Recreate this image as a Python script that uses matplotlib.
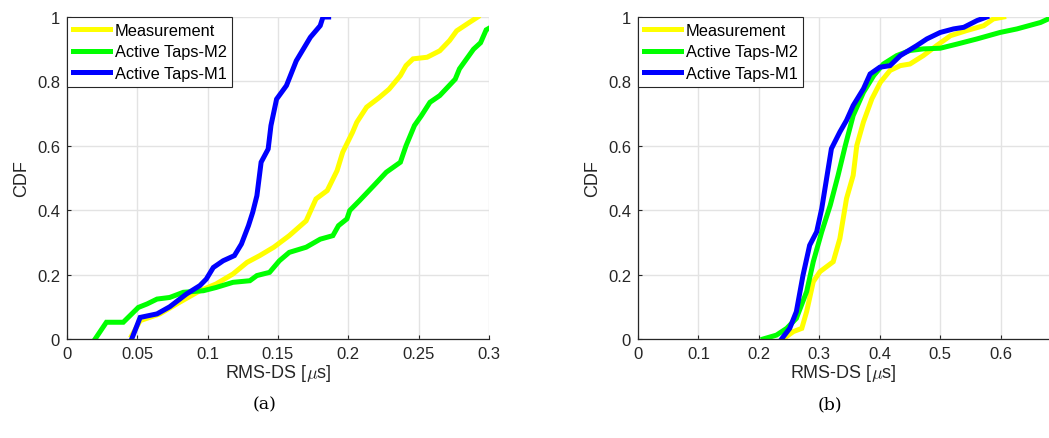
import matplotlib
matplotlib.use('Agg')
import matplotlib.pyplot as plt
from matplotlib.ticker import FuncFormatter

# (a) CDF points: x = RMS-DS [us], y = CDF
a_meas_x = [0.046, 0.052, 0.066, 0.080, 0.0945, 0.106, 0.118, 0.128, 0.137, 0.147, 0.158, 0.170,
            0.177, 0.185, 0.192, 0.196, 0.203, 0.206, 0.213, 0.222, 0.229, 0.237, 0.241, 0.246,
            0.256, 0.265, 0.272, 0.277, 0.286, 0.292]
a_meas_y = [0.01, 0.057, 0.078, 0.114, 0.15, 0.171, 0.202, 0.238, 0.259, 0.285, 0.321, 0.367,
            0.435, 0.461, 0.523, 0.58, 0.642, 0.673, 0.72, 0.75, 0.776, 0.818, 0.849, 0.87,
            0.875, 0.895, 0.927, 0.957, 0.983, 1.0]
a_m2_x = [0.020, 0.028, 0.040, 0.0507, 0.057, 0.064, 0.073, 0.0827, 0.097, 0.106, 0.118, 0.130,
          0.135, 0.144, 0.151, 0.158, 0.170, 0.180, 0.189, 0.193, 0.199, 0.201, 0.208, 0.218,
          0.227, 0.237, 0.241, 0.247, 0.252, 0.258, 0.265, 0.276, 0.279, 0.289, 0.294, 0.298, 0.302]
a_m2_y = [0.0, 0.052, 0.052, 0.098, 0.109, 0.124, 0.129, 0.145, 0.15, 0.16, 0.176, 0.181,
          0.197, 0.207, 0.243, 0.269, 0.285, 0.31, 0.321, 0.352, 0.373, 0.399, 0.43, 0.476,
          0.518, 0.549, 0.6, 0.663, 0.694, 0.735, 0.756, 0.807, 0.839, 0.9, 0.92, 0.96, 0.97]
a_m1_x = [0.046, 0.052, 0.064, 0.073, 0.085, 0.0945, 0.099, 0.104, 0.111, 0.119, 0.124, 0.129,
          0.132, 0.135, 0.138, 0.143, 0.145, 0.149, 0.156, 0.163, 0.173, 0.180, 0.182, 0.186]
a_m1_y = [0.0, 0.067, 0.078, 0.10, 0.14, 0.166, 0.186, 0.222, 0.243, 0.259, 0.295, 0.352,
          0.393, 0.445, 0.549, 0.59, 0.663, 0.745, 0.787, 0.864, 0.937, 0.973, 1.0, 1.0]

# (b)
b_meas_x = [0.240, 0.257, 0.271, 0.279, 0.290, 0.301, 0.323, 0.334, 0.345, 0.356, 0.362, 0.373,
            0.387, 0.401, 0.417, 0.434, 0.450, 0.472, 0.494, 0.517, 0.544, 0.572, 0.588, 0.605]
b_meas_y = [0.0, 0.023, 0.033, 0.085, 0.178, 0.209, 0.24, 0.312, 0.436, 0.508, 0.601, 0.674,
            0.746, 0.797, 0.834, 0.849, 0.854, 0.88, 0.911, 0.942, 0.958, 0.973, 0.994, 1.0]
b_m2_x = [0.207, 0.229, 0.246, 0.262, 0.279, 0.290, 0.304, 0.318, 0.331, 0.343, 0.356, 0.373,
          0.390, 0.406, 0.428, 0.450, 0.472, 0.500, 0.528, 0.561, 0.599, 0.627, 0.666, 0.68]
b_m2_y = [0.0, 0.012, 0.033, 0.064, 0.147, 0.24, 0.333, 0.415, 0.508, 0.601, 0.694, 0.766,
          0.818, 0.854, 0.88, 0.896, 0.901, 0.903, 0.916, 0.932, 0.952, 0.963, 0.983, 0.995]
b_m1_x = [0.2376, 0.251, 0.262, 0.273, 0.284, 0.2956, 0.304, 0.312, 0.320, 0.334, 0.345, 0.356,
          0.373, 0.384, 0.400, 0.417, 0.434, 0.461, 0.478, 0.500, 0.522, 0.539, 0.561, 0.577]
b_m1_y = [0.0, 0.033, 0.085, 0.198, 0.291, 0.333, 0.405, 0.498, 0.591, 0.643, 0.679, 0.725,
          0.777, 0.823, 0.844, 0.849, 0.88, 0.911, 0.932, 0.952, 0.963, 0.968, 0.989, 1.0]

labels = ['Measurement', 'Active Taps-M2', 'Active Taps-M1']
colors = ['#ffff00', '#00ff00', '#0000ff']

a_xticks = [0, 0.05, 0.1, 0.15, 0.2, 0.25, 0.3]
b_xticks = [0, 0.1, 0.2, 0.3, 0.4, 0.5, 0.6]
yticks = [0, 0.2, 0.4, 0.6, 0.8, 1]

plt.rcParams['font.family'] = ['Liberation Sans', 'DejaVu Sans']
plt.rcParams['mathtext.fontset'] = 'cm'

fig = plt.figure(figsize=(10.49, 4.39), dpi=100)
ax1 = fig.add_axes([67 / 1049, 1 - 340 / 439, 422 / 1049, 322 / 439])
ax2 = fig.add_axes([638 / 1049, 1 - 340 / 439, 411 / 1049, 322 / 439])

fmt = FuncFormatter(lambda v, p: ('%g' % round(v, 3)))

panels = [
    (ax1, [(a_meas_x, a_meas_y), (a_m2_x, a_m2_y), (a_m1_x, a_m1_y)], 0.3, a_xticks),
    (ax2, [(b_meas_x, b_meas_y), (b_m2_x, b_m2_y), (b_m1_x, b_m1_y)], 0.68, b_xticks),
]

for ax, series, xmax, xticks in panels:
    for (xs, ys), lab, c in zip(series, labels, colors):
        ax.plot(xs, ys, color=c, lw=3.6, label=lab, solid_joinstyle='miter')
    ax.set_xlim(0, xmax)
    ax.set_ylim(0, 1)
    ax.set_xticks(xticks)
    ax.set_yticks(yticks)
    ax.xaxis.set_major_formatter(fmt)
    ax.yaxis.set_major_formatter(fmt)
    ax.grid(True, color='#e3e3e3', lw=1)
    ax.set_axisbelow(True)
    for s in ['top', 'right']:
        ax.spines[s].set_visible(False)
    for s in ['left', 'bottom']:
        ax.spines[s].set_color('#262626')
        ax.spines[s].set_linewidth(0.9)
    ax.tick_params(direction='in', length=3, width=0.8, color='#262626',
                   labelsize=12, labelcolor='#262626', pad=5)
    ax.set_xlabel(r'RMS-DS [$\mu$s]', fontsize=13, color='#262626', labelpad=1)
    ax.set_ylabel('CDF', fontsize=13, color='#262626', labelpad=5)
    leg = ax.legend(loc='upper left', fontsize=11.8, handlelength=2.3, borderaxespad=0,
                    fancybox=False, framealpha=1, edgecolor='#262626',
                    borderpad=0.35, labelspacing=0.4, handletextpad=0.25)
    leg.get_frame().set_linewidth(0.8)

fig.text(265 / 1049, 1 - 405 / 439, '(a)', ha='center', va='center',
         fontsize=12.5, family='DejaVu Serif')
fig.text(830 / 1049, 1 - 405 / 439, '(b)', ha='center', va='center',
         fontsize=12.5, family='DejaVu Serif')

fig.savefig('out.png', dpi=100)
